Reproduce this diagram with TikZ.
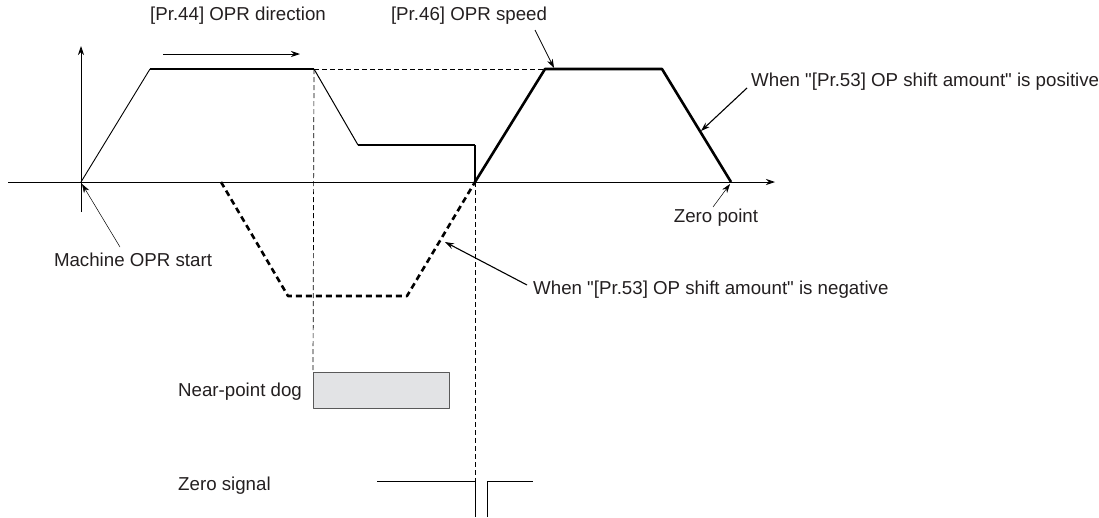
\documentclass[tikz,border=0pt]{standalone}
\usepackage{fontspec}
\setmainfont{Liberation Sans}[Ligatures=TeXOff]
\usetikzlibrary{arrows.meta}
\definecolor{dogfill}{HTML}{E2E3E5}
\definecolor{txt}{HTML}{231F20}
\begin{document}
\begin{tikzpicture}[x=1pt,y=-1pt,>={Stealth[length=9pt,width=6pt]}, line join=round]
	\tikzset{every node/.style={font=\fontsize{18.7}{22}\selectfont, inner sep=0pt, text=txt}}
	\tikzset{lead/.style={->,line width=1.1pt}, thinlead/.style={->,line width=0.5pt},
		guide/.style={dashed,dash pattern=on 5pt off 3pt,line width=0.7pt},
		shiftneg/.style={line width=2.6pt,dash pattern=on 6pt off 4pt},
		shiftpos/.style={line width=2.6pt}}
	\useasboundingbox (0,0) rectangle (1099,517);
	% key points of the speed curve
	\coordinate (O) at (81,182);
	\coordinate (a1) at (150,69); \coordinate (a2) at (314,69);
	\coordinate (a3) at (358,145); \coordinate (a4) at (475,145);
	\coordinate (Z) at (475,182);
	\coordinate (p1) at (545,69); \coordinate (p2) at (662,69);
	\coordinate (P) at (731,182);
	\coordinate (n0) at (221,182); \coordinate (n1) at (288,296); \coordinate (n2) at (407,296);
	% axes
	\draw[->,line width=0.8pt] (8,182)--(775,182);
	\draw[->,line width=0.8pt] (81,212)--(81,46);
	% speed curve
	\draw[line width=0.9pt] (O)--(a1);
	\draw[line width=2pt] (a1)--(a2);
	\draw[line width=1pt] (a2)--(a3);
	\draw[line width=2pt] (a3)--(a4);
	\draw[line width=1.5pt] (a4)--(Z);
	\draw[shiftpos] (Z)--(p1)--(p2)--(P);
	\draw[shiftneg] (n0)--(n1)--(n2)--(Z);
	% guide lines
	\draw[guide] (a2)--(p1);
	% signals
	\node[draw=black!65, fill=dogfill, line width=0.8pt, minimum width=136pt, minimum height=36pt, anchor=north west] (dog) at (313,372) {};
	\draw[guide] (a2)--(dog.north west);
	\draw[guide] (Z)--(475,517);
	\draw[line width=0.8pt] (377,481)--(475,481)--(475,517);
	\draw[line width=0.8pt] (487,517)--(487,481)--(533,481);
	% labels
	\node (dir) at (238,16) {[Pr.44] OPR direction};
	\coordinate (d1) at (163,54); \coordinate (d2) at (300,54);
	\draw[->,line width=0.8pt] (d1)--(d2);
	\node (spd) at (469,16) {[Pr.46] OPR speed};
	\coordinate (s1) at (535,30); \coordinate (stip) at (554,68);
	\draw[thinlead,line width=0.7pt] (s1)--(stip);
	\node[anchor=west] (pos) at (751,82) {When "[Pr.53] OP shift amount" is positive};
	\coordinate (ptip) at (701,131);
	\draw[lead] ([xshift=-4pt,yshift=-6pt]pos.west)--(ptip);
	\node[anchor=west] (neg) at (533,290) {When "[Pr.53] OP shift amount" is negative};
	\coordinate (ntip) at (445,242);
	\draw[lead] ([xshift=-6pt,yshift=5pt]neg.west)--(ntip);
	\node (start) at (133,260) {Machine OPR start};
	\draw[thinlead] (120,247)--(82,184);
	\node (zero) at (716,218) {Zero point};
	\draw[thinlead] (713,207)--(730,184);
	\node[anchor=west] (dogtxt) at (178,392) {Near-point dog};
	\node[anchor=west] (zsig) at (178,486) {Zero signal};
\end{tikzpicture}
\end{document}
